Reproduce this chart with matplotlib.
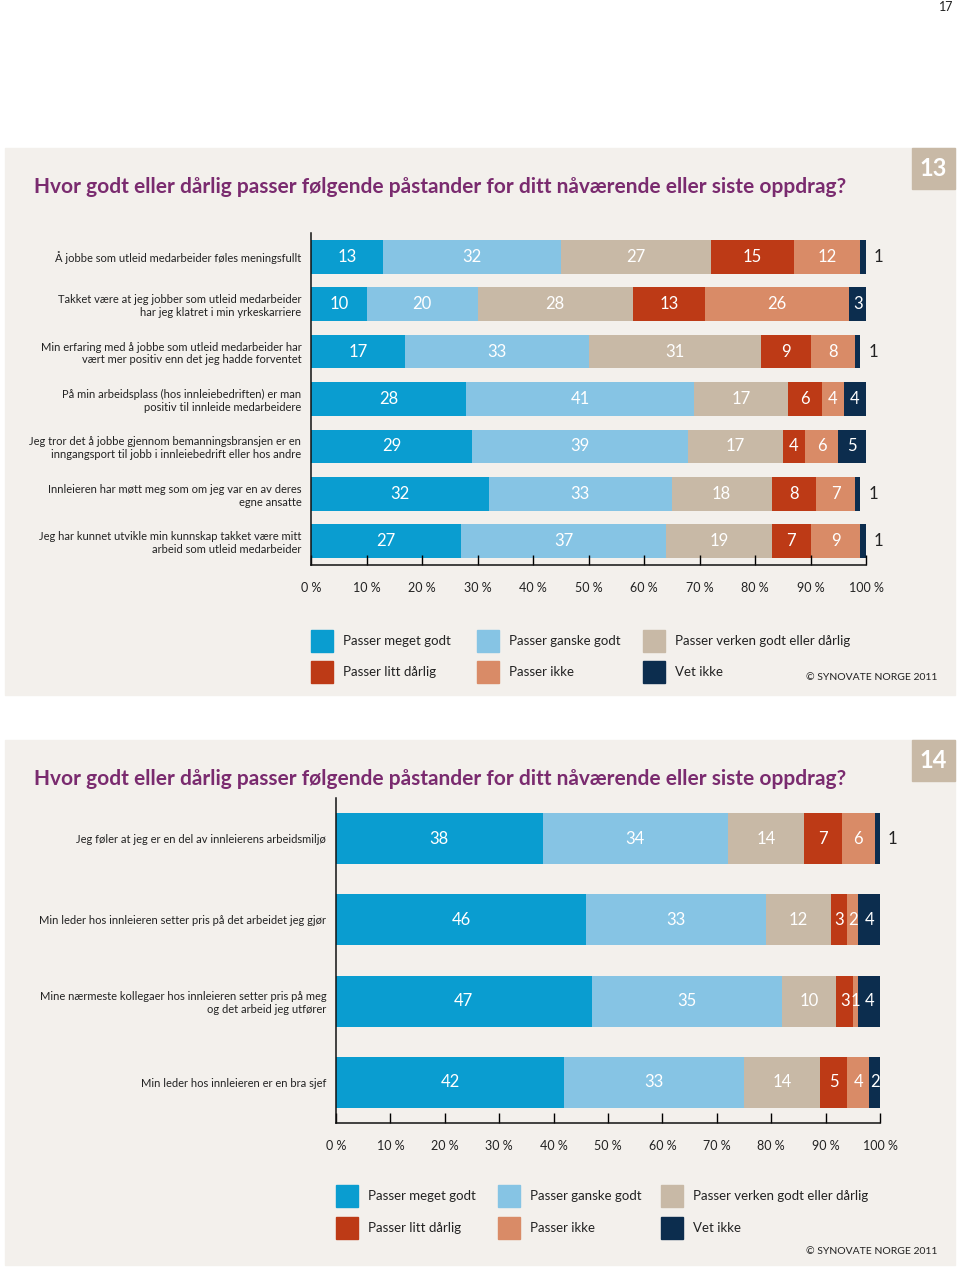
import matplotlib
matplotlib.use('Agg')
import matplotlib.pyplot as plt
from matplotlib.patches import Rectangle
import numpy as np

# Kategorier og farger
kategorier = ['Passer meget godt', 'Passer ganske godt', 'Passer verken godt eller dårlig',
              'Passer litt dårlig', 'Passer ikke', 'Vet ikke']
farger = ['#0a9dd0', '#86c4e4', '#c8b9a6', '#bd3a16', '#d98b67', '#0c2d4e']

# Figur 13
utsagn_13 = ['Å jobbe som utleid medarbeider føles meningsfullt',
             'Takket være at jeg jobber som utleid medarbeider\nhar jeg klatret i min yrkeskarriere',
             'Min erfaring med å jobbe som utleid medarbeider har\nvært mer positiv enn det jeg hadde forventet',
             'På min arbeidsplass (hos innleiebedriften) er man\npositiv til innleide medarbeidere',
             'Jeg tror det å jobbe gjennom bemanningsbransjen er en\ninngangsport til jobb i innleiebedrift eller hos andre',
             'Innleieren har møtt meg som om jeg var en av deres\negne ansatte',
             'Jeg har kunnet utvikle min kunnskap takket være mitt\narbeid som utleid medarbeider']
verdier_13 = [[13, 32, 27, 15, 12, 1],
              [10, 20, 28, 13, 26, 3],
              [17, 33, 31, 9, 8, 1],
              [28, 41, 17, 6, 4, 4],
              [29, 39, 17, 4, 6, 5],
              [32, 33, 18, 8, 7, 1],
              [27, 37, 19, 7, 9, 1]]

# Figur 14
utsagn_14 = ['Jeg føler at jeg er en del av innleierens arbeidsmiljø',
             'Min leder hos innleieren setter pris på det arbeidet jeg gjør',
             'Mine nærmeste kollegaer hos innleieren setter pris på meg\nog det arbeid jeg utfører',
             'Min leder hos innleieren er en bra sjef']
verdier_14 = [[38, 34, 14, 7, 6, 1],
              [46, 33, 12, 3, 2, 4],
              [47, 35, 10, 3, 1, 4],
              [42, 33, 14, 5, 4, 2]]

tittel = 'Hvor godt eller dårlig passer følgende påstander for ditt nåværende eller siste oppdrag?'
xticks = list(range(0, 101, 10))
xticklabels = [f'{t} %' for t in xticks]

W, H = 960, 1271
FONT = ['Lato', 'DejaVu Sans']
plt.rcParams['font.family'] = FONT

fig = plt.figure(figsize=(W / 100, H / 100), dpi=100)
fig.patch.set_facecolor('white')


def fx(x):
    return x / W


def fy(y):
    return 1 - y / H


def rect(x0, y0, x1, y1, color, z=1):
    fig.patches.append(Rectangle((fx(x0), fy(y1)), fx(x1) - fx(x0), fy(y0) - fy(y1),
                                 transform=fig.transFigure, color=color, zorder=z))


def panel(top, bottom, nr, ax_box, utsagn, verdier, barh, leg_y, leg_cols, copy_y):
    rect(5, top, 955, bottom, '#f3f0ec', z=-1)
    rect(912, top, 955, top + 41, '#c8b9a6')
    fig.text(fx(933.5), fy(top + 20), nr, color='white', fontsize=17, fontweight='bold',
             ha='center', va='center')
    fig.text(fx(34), fy(top + 39), tittel, color='#7a2b6f', fontsize=15, fontweight='bold',
             ha='left', va='center')

    x0, y0, x1, y1 = ax_box
    ax = fig.add_axes([fx(x0), fy(y1), fx(x1) - fx(x0), fy(y0) - fy(y1)])
    ax.set_facecolor('none')
    n = len(utsagn)
    data = np.array(verdier)
    left = np.zeros(n)
    for j in range(data.shape[1]):
        ax.barh(np.arange(n), data[:, j], left=left, height=barh, color=farger[j])
        for i in range(n):
            v = data[i, j]
            if j == data.shape[1] - 1 and v == 1:
                ax.annotate(str(v), (left[i] + v, i), xytext=(9, 0), textcoords='offset points',
                            ha='center', va='center', fontsize=12, color='#222222')
            else:
                ax.text(left[i] + v / 2, i, str(v), ha='center', va='center',
                        fontsize=12, color='white')
        left += data[:, j]
    ax.set_xlim(0, 100)
    ax.set_ylim(n - 0.5, -0.5)
    ax.set_yticks(np.arange(n))
    ax.set_yticklabels(utsagn, fontsize=8, color='#222222')
    ax.tick_params(axis='y', length=0, pad=7)
    ax.set_xticks(xticks)
    ax.set_xticklabels(xticklabels, fontsize=9, color='#222222')
    ax.tick_params(axis='x', direction='in', length=7, width=1, pad=12)
    for s in ['top', 'right']:
        ax.spines[s].set_visible(False)
    for s in ['left', 'bottom']:
        ax.spines[s].set_linewidth(1.1)
        ax.spines[s].set_color('#111111')

    # legende
    for k, lab in enumerate(kategorier):
        r, c = divmod(k, 3)
        sx = leg_cols[c]
        sy = leg_y[r]
        rect(sx, sy - 11, sx + 22, sy + 11, farger[k])
        fig.text(fx(sx + 32), fy(sy), lab, fontsize=9.5, color='#222222', ha='left', va='center')
    fig.text(fx(937), fy(copy_y), '© SYNOVATE NORGE 2011', fontsize=7.5, color='#222222',
             ha='right', va='center')


panel(148, 695, '13', (311, 233, 866, 565), utsagn_13, verdier_13, 0.71,
      (641, 672), (311, 477, 643), 678)
panel(740, 1265, '14', (336, 798, 880, 1123), utsagn_14, verdier_14, 0.63,
      (1196, 1228), (336, 498, 661), 1251)

fig.text(fx(946), fy(7), '17', fontsize=9, color='#222222', ha='center', va='center')

fig.savefig('out.png', dpi=100)
